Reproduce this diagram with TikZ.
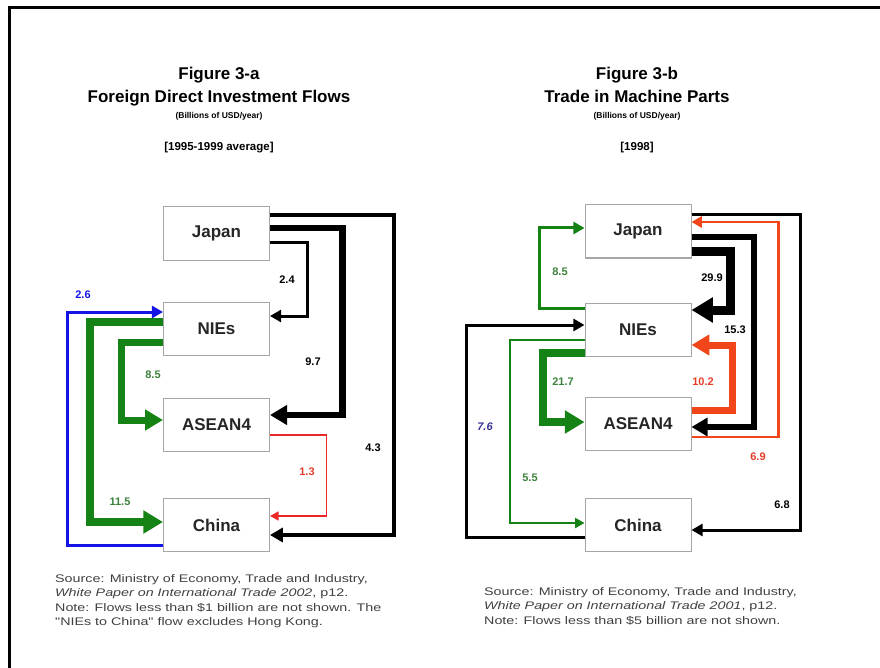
\documentclass[tikz,border=0pt]{standalone}
\usepackage{fontspec}
\setmainfont{Liberation Sans}
\newfontfamily\srcfont[FakeStretch=1.3]{Liberation Sans}
\usepackage{xcolor}
\usetikzlibrary{arrows.meta}

\definecolor{flowgreen}{RGB}{20,130,20}
\definecolor{flowblue}{RGB}{20,20,230}
\definecolor{flowred}{RGB}{235,40,40}
\definecolor{floworange}{RGB}{240,70,25}
\definecolor{labgreen}{RGB}{60,130,60}
\definecolor{labnavy}{RGB}{50,50,150}
\definecolor{labred}{RGB}{230,60,40}

\begin{document}
\begin{tikzpicture}[
      x=1pt, y=-1pt,
      box/.style={draw=gray!70, line width=1pt, fill=white, minimum width=106pt, minimum height=53pt,
                  inner sep=0pt, text=black!85, font=\fontsize{17}{20}\selectfont\bfseries},
      flow/.style={line width=#1, -{Triangle[length=6pt 1.7, width=6pt 2]}},
      lab/.style={inner sep=0pt, font=\fontsize{11}{13}\selectfont\bfseries},
      figtitle/.style={anchor=base, inner sep=0pt, font=\fontsize{17}{20}\selectfont\bfseries},
      units/.style={anchor=base, inner sep=0pt, font=\fontsize{8.5}{10}\selectfont\bfseries},
      period/.style={anchor=base, inner sep=0pt, font=\fontsize{11.5}{14}\selectfont\bfseries},
      source/.style={anchor=north west, inner sep=0pt, align=left, font=\srcfont\fontsize{11}{14.5}\selectfont, text=black!75}
    ]
    \useasboundingbox (0,0) rectangle (880,668);
    \draw[line width=2.5pt] (9.3,668) -- (9.3,7.7) -- (880,7.7);

    % Figure 3-a
    \node[figtitle] (titlea) at (219,80) {Figure 3-a};
    \node[figtitle] (namea) at (219,103) {Foreign Direct Investment Flows};
    \node[units] (unitsa) at (219,119) {(Billions of USD/year)};
    \node[period] (perioda) at (219,151) {[1995-1999 average]};

    \node[box] (jp) at (216.5,233.5) {Japan};
    \node[box] (nie) at (216.5,329) {NIEs};
    \node[box] (asean) at (216.5,424.5) {ASEAN4};
    \node[box] (china) at (216.5,525) {China};

    \draw[flow=3pt] ([yshift=-9.5pt]jp.east) -- ++(37.5,0) |- ([yshift=13pt]nie.east);
    \draw[flow=6.5pt] ([yshift=5.5pt]jp.east) -- ++(72.5,0) |- ([yshift=9.5pt]asean.east);
    \draw[flow=4pt] ([yshift=18.5pt]jp.east) -- ++(123.5,0) |- ([yshift=-10pt]china.east);
    \draw[flow=1.5pt, flowred] ([yshift=-10.5pt]asean.east) -- ++(56.5,0) |- ([yshift=9pt]china.east);
    \draw[flow=3pt, flowblue] ([yshift=-20pt]china.west) -- ++(-95.5,0) |- ([yshift=17pt]nie.west);
    \draw[flow=8pt, flowgreen] ([yshift=7pt]nie.west) -- ++(-73.5,0) |- ([yshift=3pt]china.west);
    \draw[flow=7pt, flowgreen] ([yshift=-13pt]nie.west) -- ++(-41.5,0) |- ([yshift=4.5pt]asean.west);

    \node[lab] (v-jn) at (287,280) {2.4};
    \node[lab] (v-ja) at (313,362) {9.7};
    \node[lab] (v-jc) at (373,448) {4.3};
    \node[lab, labred] (v-ac) at (307,472) {1.3};
    \node[lab, flowblue] (v-cn) at (83,295) {2.6};
    \node[lab, labgreen] (v-nc) at (120,502) {11.5};
    \node[lab, labgreen] (v-na) at (153,375) {8.5};

    \node[source] (srca) at (55,574) {Source: Ministry of Economy, Trade and Industry,\\
      \textit{White Paper on International Trade 2002}, p12.\\
      Note: Flows less than \$1 billion are not shown. The\\
      "NIEs to China" flow excludes Hong Kong.};

    % Figure 3-b
    \node[figtitle] (titleb) at (637,80) {Figure 3-b};
    \node[figtitle] (nameb) at (637,103) {Trade in Machine Parts};
    \node[units] (unitsb) at (637,119) {(Billions of USD/year)};
    \node[period] (periodb) at (637,151) {[1998]};

    \node[box] (jpb) at (638,231.5) {Japan};
    \node[box] (nieb) at (638,330) {NIEs};
    \node[box] (aseanb) at (638,423.5) {ASEAN4};
    \node[box] (chinab) at (638,525) {China};

    \draw[flow=3pt, flowgreen] ([yshift=22pt]nieb.west) -- ++(-45,0) |- ([yshift=3.5pt]jpb.west);
    \draw[flow=3pt] ([yshift=-12pt]chinab.west) -- ++(-118,0) |- ([yshift=5pt]nieb.west);
    \draw[flow=2pt, flowgreen] ([yshift=-10pt]nieb.west) -- ++(-75,0) |- ([yshift=2pt]chinab.west);
    \draw[flow=8pt, flowgreen] ([yshift=-23pt]nieb.west) -- ++(-42,0) |- ([yshift=1.5pt]aseanb.west);
    \draw[flow=9pt] ([yshift=-20.5pt]jpb.east) -- ++(39,0) |- ([yshift=20pt]nieb.east);
    \draw[flow=6pt] ([yshift=-5.5pt]jpb.east) -- ++(62,0) |- ([yshift=-3.5pt]aseanb.east);
    \draw[flow=7pt, floworange] ([yshift=13.5pt]aseanb.east) -- ++(41,0) |- ([yshift=-15pt]nieb.east);
    \draw[flow=2.5pt, floworange] ([yshift=-13.5pt]aseanb.east) -- ++(87,0) |- ([yshift=9.5pt]jpb.east);
    \draw[flow=3pt] ([yshift=16.5pt]jpb.east) -- ++(109,0) |- ([yshift=-5pt]chinab.east);

    \node[lab, labgreen] (w-nj) at (560,272) {8.5};
    \node[lab] (w-jn) at (712,278) {29.9};
    \node[lab] (w-ja) at (735,330) {15.3};
    \node[lab, labgreen] (w-na) at (563,382) {21.7};
    \node[lab, labred] (w-an) at (703,382) {10.2};
    \node[lab, labnavy, font=\fontsize{11}{13}\selectfont\bfseries\itshape] (w-cn) at (485,427) {7.6};
    \node[lab, labgreen] (w-nc) at (530,478) {5.5};
    \node[lab, labred] (w-aj) at (758,457) {6.9};
    \node[lab] (w-jc) at (782,505) {6.8};

    \node[source] (srcb) at (484,587) {Source: Ministry of Economy, Trade and Industry,\\
      \textit{White Paper on International Trade 2001}, p12.\\
      Note: Flows less than \$5 billion are not shown.};
  \end{tikzpicture}
\end{document}
